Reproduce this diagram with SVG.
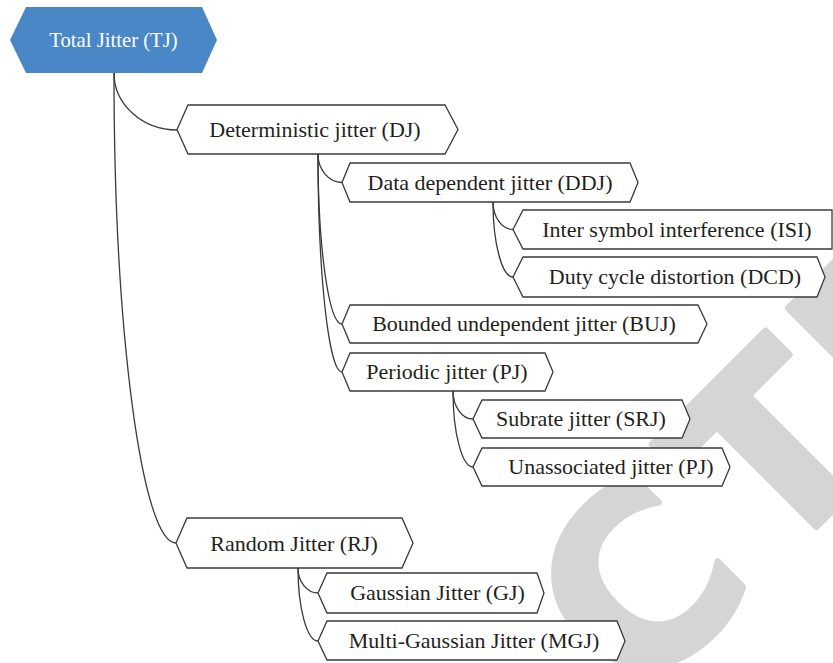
<svg xmlns="http://www.w3.org/2000/svg" width="833" height="663" viewBox="0 0 833 663">
<style>
  .node polygon { fill: #ffffff; stroke: #3a3a3a; stroke-width: 1.3; stroke-linejoin: miter; }
  .node text { font-family: "Liberation Serif", "DejaVu Serif", serif; font-size: 22px; fill: #231f20; text-anchor: middle; }
  #node-tj polygon { fill: #4a87c7; stroke: none; }
  #node-tj text { fill: #ffffff; font-size: 20.7px; }
  #connectors path { fill: none; stroke: #3a3a3a; stroke-width: 1.3; }
  .wm { fill: #d5d5d5; stroke: #d5d5d5; stroke-width: 6; stroke-linejoin: round; font-family: "DejaVu Sans", sans-serif; font-weight: bold; font-size: 240px; text-anchor: middle; }
</style>
<rect width="833" height="663" fill="#ffffff"/>
<text class="wm" transform="rotate(-45)"><tspan x="38" y="950">C</tspan><tspan x="227" y="950">T</tspan><tspan x="399" y="950">E</tspan></text>
<g id="connectors">
  <path d="M114,73 C114,104.4 142.4,130 177,130"/>
  <path d="M114,73 C114,331.5 141.9,543 176,543"/>
  <path d="M318,154 C318,169.7 328.8,182.5 342,182.5"/>
  <path d="M318,154 C318,247.5 328.8,324 342,324"/>
  <path d="M318,154 C318,273.9 328.8,372 342,372"/>
  <path d="M493,202 C493,217.1 502,229.5 513,229.5"/>
  <path d="M493,202 C493,243.3 502,277 513,277"/>
  <path d="M453,391 C453,406.4 462,419 473,419"/>
  <path d="M453,391 C453,432.8 462,467 473,467"/>
  <path d="M298,568 C298,581.75 307,593 318,593"/>
  <path d="M298,568 C298,608.2 307,641 318,641"/>
</g>
<g id="node-tj" class="node">
  <polygon points="10,40 26,7 202,7 217,40 202,73 26,73"/>
  <text x="113.5" y="47">Total Jitter (TJ)</text>
</g>
<g id="node-dj" class="node">
  <polygon points="177,129.5 188,105 445,105 458,129.5 445,154 188,154"/>
  <text x="315" y="137">Deterministic jitter (DJ)</text>
</g>
<g id="node-ddj" class="node">
  <polygon points="342,182.5 350,163 630,163 638,182.5 630,202 350,202"/>
  <text x="490" y="189.5">Data dependent jitter (DDJ)</text>
</g>
<g id="node-isi" class="node">
  <polygon points="513,229.5 523,210 832,210 832,249 523,249"/>
  <text x="677" y="236.5">Inter symbol interference (ISI)</text>
</g>
<g id="node-dcd" class="node">
  <polygon points="513,277 523,257 817,257 825,277 817,297 523,297"/>
  <text x="675" y="284">Duty cycle distortion (DCD)</text>
</g>
<g id="node-buj" class="node">
  <polygon points="342,324 350,305 698,305 707,324 698,343 350,343"/>
  <text x="524" y="331">Bounded undependent jitter (BUJ)</text>
</g>
<g id="node-pj" class="node">
  <polygon points="342,372 350,353 545,353 553,372 545,391 350,391"/>
  <text x="447" y="379">Periodic jitter (PJ)</text>
</g>
<g id="node-srj" class="node">
  <polygon points="473,419 482,400 682,400 690,419 682,438 482,438"/>
  <text x="581" y="426">Subrate jitter (SRJ)</text>
</g>
<g id="node-uj" class="node">
  <polygon points="473,467 482,448 722,448 730,467 722,486 482,486"/>
  <text x="611" y="474">Unassociated jitter (PJ)</text>
</g>
<g id="node-rj" class="node">
  <polygon points="176,543 187,518 402,518 413,543 402,568 187,568"/>
  <text x="294" y="550.5">Random Jitter (RJ)</text>
</g>
<g id="node-gj" class="node">
  <polygon points="318,593 327,573 537,573 544,593 537,613 327,613"/>
  <text x="437.5" y="600">Gaussian Jitter (GJ)</text>
</g>
<g id="node-mgj" class="node">
  <polygon points="318,641 327,621 617,621 625,641 617,660 327,660"/>
  <text x="474" y="648">Multi-Gaussian Jitter (MGJ)</text>
</g>
</svg>
